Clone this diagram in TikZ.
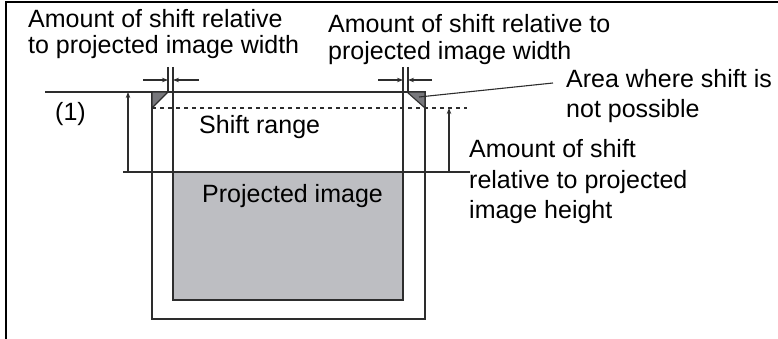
\documentclass[tikz,border=0pt]{standalone}
\usepackage{fontspec}
\setmainfont{Liberation Sans}
\usetikzlibrary{arrows.meta, positioning}
\definecolor{linegray}{RGB}{45,45,45}
\definecolor{imagegray}{RGB}{189,190,194}
\definecolor{blockgray}{RGB}{120,120,124}

\begin{document}
\begin{tikzpicture}[x=1pt, y=-1pt, >={Stealth[length=6pt, width=4.5pt]},
    every node/.style={inner sep=0pt, anchor=base west, align=left, font=\fontsize{25}{30}\selectfont},
    edge/.style={draw=linegray, line width=1.1pt},
    dim/.style={edge, ->},
    block/.style={edge, fill=blockgray, line join=miter}]
    \useasboundingbox (0,0) rectangle (778,339);
    \draw[line width=2.6pt] (6,339) -- (6,2) -- (778,2);

    \coordinate (rangeNW) at (152,92);
    \coordinate (rangeNE) at (425,92);
    \coordinate (rangeSE) at (425,319);
    \coordinate (imageNW) at (173,172);
    \coordinate (imageSE) at (403,300);
    \coordinate (limitL) at (152,108);
    \coordinate (limitR) at (467,108);

    \filldraw[edge, fill=imagegray] (imageNW) rectangle (imageSE);
    \draw[edge] (rangeNW) rectangle (rangeSE);
    \draw[edge] (45,92) -- (rangeNW);
    \draw[edge] (123,172) -- (imageNW);
    \draw[edge] (imageSE |- imageNW) -- (470,172);
    \draw[edge, dashed, dash pattern=on 4pt off 4pt] (limitL) -- (limitR);

    \draw[block] (rangeNW) -- (168,92) -- (limitL) -- cycle;
    \draw[block] (407,92) -- (rangeNE) -- (425,108) -- cycle;

    \draw[edge] (168,67) -- (168,92);
    \draw[edge] (173,67) -- (imageNW);
    \draw[edge] (403,67) -- (imageSE |- imageNW);
    \draw[edge] (408,67) -- (408,92);
    \draw[dim] (143,80) -- (168,80);
    \draw[dim] (199,80) -- (173,80);
    \draw[dim] (378,80) -- (403,80);
    \draw[dim] (432,80) -- (408,80);

    \draw[dim] (128,172) -- (128,92);
    \draw[dim] (449,172) -- (449,108);

    % base anchor sits on the last line
    \node (widthL) at (28,54) [font=\fontsize{25}{26.5}\selectfont] {Amount of shift relative\\to projected image width};
    \node (widthR) at (328,60) [font=\fontsize{25}{27.5}\selectfont] {Amount of shift relative to\\projected image width};
    \node (area) at (566,118) {Area where shift is\\not possible};
    \node (height) at (469,218) {Amount of shift\\relative to projected\\image height};
    \node (one) at (55,121) {(1)};
    \node (range) at (199,134) {Shift range};
    \node (projected) at (202,202) {Projected image};
    \draw[edge] (419,97) -- (553,83);
\end{tikzpicture}
\end{document}
